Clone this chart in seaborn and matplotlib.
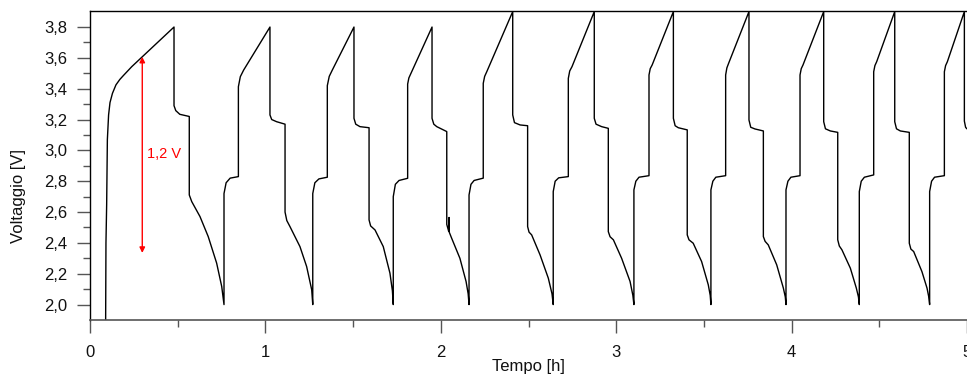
import numpy as np
import pandas as pd
import matplotlib
matplotlib.use("Agg")
import matplotlib.pyplot as plt
from matplotlib.ticker import FixedLocator, MultipleLocator, FuncFormatter
import seaborn as sns

# ---------------- data ----------------
# initial charge
charge0_t = [0.089, 0.091, 0.095, 0.099, 0.106, 0.114, 0.128, 0.148, 0.170, 0.190, 0.238, 0.298]
charge0_v = [1.85, 2.40, 2.65, 3.07, 3.23, 3.31, 3.37, 3.425, 3.46, 3.485, 3.543, 3.607]

# each cycle: peak -> 3.2 V step -> discharge -> 2.8 V step -> charge (ends before next peak)
cyc01_t = [0.479, 0.479, 0.489, 0.512, 0.566, 0.566, 0.580, 0.627, 0.674, 0.722, 0.751, 0.764,
           0.764, 0.776, 0.799, 0.846, 0.846, 0.857, 0.876]
cyc01_v = [3.80, 3.29, 3.258, 3.234, 3.220, 2.711, 2.668, 2.571, 2.441, 2.269, 2.117, 2.00,
           2.72, 2.79, 2.82, 2.83, 3.413, 3.478, 3.521]

cyc02_t = [1.026, 1.026, 1.036, 1.064, 1.112, 1.112, 1.122, 1.140, 1.197, 1.235, 1.264, 1.270,
           1.270, 1.282, 1.305, 1.353, 1.353, 1.364, 1.381]
cyc02_v = [3.80, 3.23, 3.20, 3.186, 3.17, 2.60, 2.545, 2.506, 2.376, 2.247, 2.096, 2.00,
           2.72, 2.79, 2.815, 2.826, 3.42, 3.48, 3.52]

cyc03_t = [1.505, 1.505, 1.515, 1.539, 1.591, 1.591, 1.600, 1.625, 1.672, 1.710, 1.724, 1.729,
           1.729, 1.741, 1.762, 1.811, 1.811, 1.818, 1.834]
cyc03_v = [3.80, 3.208, 3.17, 3.154, 3.147, 2.549, 2.51, 2.484, 2.376, 2.204, 2.09, 2.00,
           2.70, 2.78, 2.805, 2.819, 3.43, 3.47, 3.51]

cyc04_t = [1.950, 1.950, 1.960, 1.977, 2.034, 2.034, 2.045, 2.047, 2.048, 2.062, 2.109, 2.144,
           2.156, 2.161, 2.161, 2.172, 2.190, 2.242, 2.242, 2.250, 2.262]
cyc04_v = [3.80, 3.208, 3.17, 3.154, 3.122, 2.52, 2.475, 2.565, 2.47, 2.43, 2.30, 2.15,
           2.07, 2.00, 2.711, 2.78, 2.805, 2.82, 3.435, 3.48, 3.51]

cyc05_t = [2.410, 2.410, 2.420, 2.452, 2.495, 2.495, 2.503, 2.518, 2.566, 2.613, 2.634, 2.641,
           2.641, 2.652, 2.672, 2.727, 2.727, 2.735, 2.748]
cyc05_v = [3.90, 3.23, 3.18, 3.165, 3.16, 2.506, 2.47, 2.452, 2.322, 2.171, 2.07, 2.00,
           2.733, 2.80, 2.822, 2.83, 3.467, 3.515, 3.543]

cyc06_t = [2.875, 2.875, 2.885, 2.917, 2.955, 2.955, 2.965, 2.984, 3.031, 3.079, 3.095, 3.101,
           3.101, 3.112, 3.130, 3.187, 3.187, 3.194, 3.205]
cyc06_v = [3.90, 3.208, 3.17, 3.154, 3.143, 2.473, 2.44, 2.42, 2.30, 2.15, 2.06, 2.00,
           2.744, 2.80, 2.826, 2.836, 3.489, 3.53, 3.554]

cyc07_t = [3.326, 3.326, 3.336, 3.354, 3.405, 3.405, 3.415, 3.439, 3.487, 3.525, 3.536, 3.540,
           3.540, 3.551, 3.568, 3.624, 3.624, 3.631, 3.641]
cyc07_v = [3.90, 3.208, 3.16, 3.147, 3.133, 2.452, 2.42, 2.398, 2.279, 2.128, 2.06, 2.00,
           2.744, 2.80, 2.826, 2.836, 3.489, 3.535, 3.565]

cyc08_t = [3.757, 3.757, 3.767, 3.791, 3.839, 3.839, 3.849, 3.867, 3.915, 3.953, 3.964, 3.968,
           3.968, 3.979, 3.996, 4.048, 4.048, 4.055, 4.065]
cyc08_v = [3.90, 3.197, 3.15, 3.139, 3.126, 2.441, 2.41, 2.387, 2.258, 2.107, 2.05, 2.00,
           2.744, 2.80, 2.826, 2.836, 3.489, 3.53, 3.554]

cyc09_t = [4.183, 4.183, 4.193, 4.221, 4.263, 4.263, 4.272, 4.287, 4.335, 4.369, 4.381, 4.386,
           4.386, 4.397, 4.415, 4.468, 4.468, 4.475, 4.485]
cyc09_v = [3.90, 3.186, 3.14, 3.126, 3.117, 2.42, 2.38, 2.355, 2.236, 2.107, 2.05, 2.00,
           2.733, 2.80, 2.826, 2.841, 3.51, 3.55, 3.575]

cyc10_t = [4.588, 4.588, 4.598, 4.620, 4.671, 4.671, 4.680, 4.696, 4.743, 4.772, 4.782, 4.787,
           4.787, 4.798, 4.815, 4.871, 4.871, 4.878, 4.888]
cyc10_v = [3.90, 3.186, 3.14, 3.126, 3.117, 2.398, 2.36, 2.344, 2.214, 2.107, 2.05, 2.00,
           2.733, 2.80, 2.826, 2.836, 3.51, 3.55, 3.575]

final_t = [4.985, 4.985, 4.992, 4.999]
final_v = [3.90, 3.19, 3.15, 3.14]

# annotation
arrow_t = 0.298
arrow_top_v = 3.607
arrow_bottom_v = 2.335
arrow_label = "1,2 V"

y_ticks = [2.0, 2.2, 2.4, 2.6, 2.8, 3.0, 3.2, 3.4, 3.6, 3.8]
x_ticks = [0, 1, 2, 3, 4, 5]

# ---------------- assemble ----------------
segments_t = [charge0_t, cyc01_t, cyc02_t, cyc03_t, cyc04_t, cyc05_t, cyc06_t,
              cyc07_t, cyc08_t, cyc09_t, cyc10_t, final_t]
segments_v = [charge0_v, cyc01_v, cyc02_v, cyc03_v, cyc04_v, cyc05_v, cyc06_v,
              cyc07_v, cyc08_v, cyc09_v, cyc10_v, final_v]
df = pd.DataFrame({
    "Tempo": np.concatenate(segments_t),
    "Voltaggio": np.concatenate(segments_v),
})

# ---------------- plot ----------------
sns.set_theme(style="white")
plt.rcParams["font.family"] = ["Liberation Sans", "DejaVu Sans"]

fig = plt.figure(figsize=(9.67, 3.76), dpi=100)
ax = fig.add_axes([90 / 967, (376 - 320) / 376, 877 / 967, (320 - 11) / 376])

sns.lineplot(data=df, x="Tempo", y="Voltaggio", sort=False, estimator=None,
             color="black", linewidth=1.0, ax=ax)

ax.set_xlim(0, 5)
ax.set_ylim(1.9, 3.904)

ax.xaxis.set_major_locator(FixedLocator(x_ticks))
ax.xaxis.set_minor_locator(MultipleLocator(0.5))
ax.yaxis.set_major_locator(FixedLocator(y_ticks))
ax.yaxis.set_minor_locator(FixedLocator([v + 0.1 for v in y_ticks[:-1]]))
ax.yaxis.set_major_formatter(FuncFormatter(lambda v, p: f"{v:.1f}".replace(".", ",")))
ax.xaxis.set_major_formatter(FuncFormatter(lambda v, p: f"{v:.0f}"))

ax.tick_params(axis="both", which="major", direction="out", length=9.5, width=1,
               color="#555555", labelsize=12, labelcolor="#111111")
ax.tick_params(axis="both", which="minor", direction="out", length=5, width=1,
               color="#555555")
ax.tick_params(axis="x", which="major", pad=8.5)
ax.tick_params(axis="y", which="major", pad=7)
ax.tick_params(left=True, bottom=True, which="both")

for side in ["left", "top"]:
    ax.spines[side].set_color("black")
    ax.spines[side].set_linewidth(1.0)
ax.spines["bottom"].set_color("#555555")
ax.spines["bottom"].set_linewidth(1.2)
ax.spines["right"].set_visible(False)

ax.set_xlabel("Tempo [h]", fontsize=12, color="#111111")
ax.set_ylabel("Voltaggio [V]", fontsize=12, color="#111111")
ax.xaxis.set_label_coords(0.5, -0.126)
ax.xaxis.label.set_va("top")
ax.yaxis.set_label_coords(-0.081, 0.401)
ax.yaxis.label.set_va("center")

ax.annotate("", xy=(arrow_t, arrow_bottom_v), xytext=(arrow_t, arrow_top_v),
            arrowprops=dict(arrowstyle="<|-|>", color="red", lw=1.0,
                            mutation_scale=8, shrinkA=0, shrinkB=0))
ax.text(arrow_t + 0.029, 2.974, arrow_label, color="red", fontsize=10.5,
        ha="left", va="center")

fig.savefig("out.png", dpi=100)
